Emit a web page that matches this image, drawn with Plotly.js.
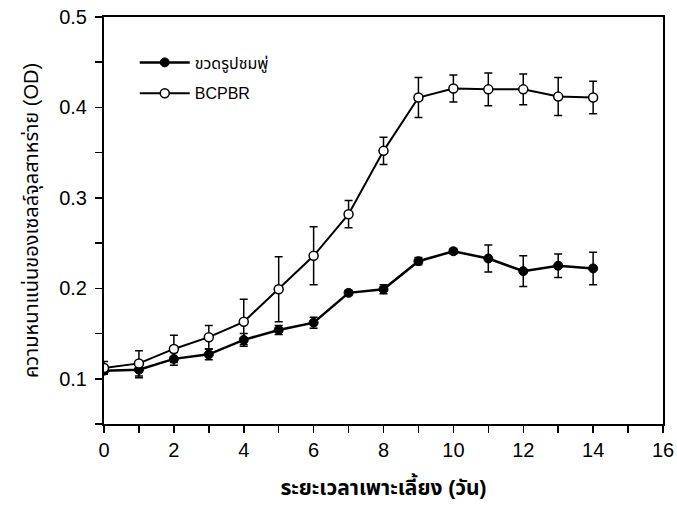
<!DOCTYPE html>
<html>
<head>
<meta charset="utf-8">
<script src="https://cdn.plot.ly/plotly-3.0.1.min.js"></script>
<style>html,body{margin:0;padding:0;background:#fff;}#chart{width:677px;height:506px;}</style>
</head>
<body>
<div id="chart"></div>
<script>
const days = [0,1,2,3,4,5,6,7,8,9,10,11,12,13,14];
const flaskName = "ขวดรูปชมพู่";
const flaskOD = [0.109,0.110,0.122,0.127,0.143,0.154,0.162,0.195,0.199,0.230,0.241,0.233,0.219,0.225,0.222];
const flaskErr = [0.003,0.009,0.007,0.006,0.007,0.005,0.006,0.003,0.005,0.004,0.003,0.015,0.017,0.013,0.018];
const pbrName = "BCPBR";
const pbrOD = [0.112,0.117,0.133,0.146,0.163,0.199,0.236,0.282,0.352,0.411,0.421,0.420,0.420,0.412,0.411];
const pbrErr = [0.007,0.014,0.015,0.013,0.025,0.036,0.032,0.015,0.015,0.022,0.015,0.018,0.017,0.021,0.018];
const xTickVals = [0,2,4,6,8,10,12,14,16];
const yTickVals = [0.1,0.2,0.3,0.4,0.5];
const yTickText = ['0.1','0.2','0.3','0.4','0.5'];
const xTitle = "ระยะเวลาเพาะเลี้ยง (วัน)";
const yTitle = "ความหนาแน่นของเซลล์จุลสาหร่าย (OD)";

const font = "Liberation Sans, Arial, Noto Sans Thai, Noto Sans, sans-serif";

const traces = [
  {
    x: days, y: flaskOD, name: flaskName, legendgroup: 'a', type: 'scatter', mode: 'lines+markers',
    line: {color: '#000', width: 2.5},
    marker: {symbol: 'circle', size: 9, color: '#000', line: {color: '#000', width: 1}},
    error_y: {type: 'data', array: flaskErr, visible: true, color: '#000', thickness: 1.5, width: 4}
  },
  {
    x: days, y: pbrOD, name: pbrName, legendgroup: 'b', type: 'scatter', mode: 'lines+markers',
    line: {color: '#000', width: 2},
    marker: {symbol: 'circle', size: 9, color: '#fff', line: {color: '#000', width: 1.5}},
    error_y: {type: 'data', array: pbrErr, visible: true, color: '#000', thickness: 1.5, width: 4}
  }
];

const layout = {
  width: 677, height: 506,
  margin: {l: 104, r: 14, t: 17, b: 82},
  paper_bgcolor: '#fff', plot_bgcolor: '#fff',
  font: {family: font, color: '#000', size: 16},
  showlegend: true,
  legend: {
    x: 0.055, y: 0.93, xanchor: 'left', yanchor: 'top',
    bgcolor: 'rgba(0,0,0,0)', font: {size: 16, family: font},
    traceorder: 'grouped', tracegroupgap: 7, itemwidth: 50
  },
  xaxis: {
    range: [0, 16], tickvals: xTickVals,
    ticks: 'outside', ticklen: 7, tickwidth: 1.5, tickcolor: '#000',
    minor: {dtick: 1, ticks: 'outside', ticklen: 7, tickwidth: 1.5, tickcolor: '#000'},
    showline: true, linecolor: '#000', linewidth: 2, mirror: true,
    showgrid: false, zeroline: false,
    tickfont: {size: 20},
    title: {text: '<b>' + xTitle + '</b>', font: {size: 21, family: font}, standoff: 20}
  },
  yaxis: {
    range: [0.05, 0.5], tickvals: yTickVals, ticktext: yTickText,
    ticks: 'outside', ticklen: 7, tickwidth: 1.5, tickcolor: '#000', ticklabelstandoff: 4,
    minor: {dtick: 0.05, tick0: 0.05, ticks: 'outside', ticklen: 7, tickwidth: 1.5, tickcolor: '#000'},
    showline: true, linecolor: '#000', linewidth: 2, mirror: true,
    showgrid: false, zeroline: false,
    tickfont: {size: 20},
    title: {text: yTitle, font: {size: 20, family: font}, standoff: 15}
  }
};

Plotly.newPlot('chart', traces, layout, {displayModeBar: false, staticPlot: true});
</script>
</body>
</html>
